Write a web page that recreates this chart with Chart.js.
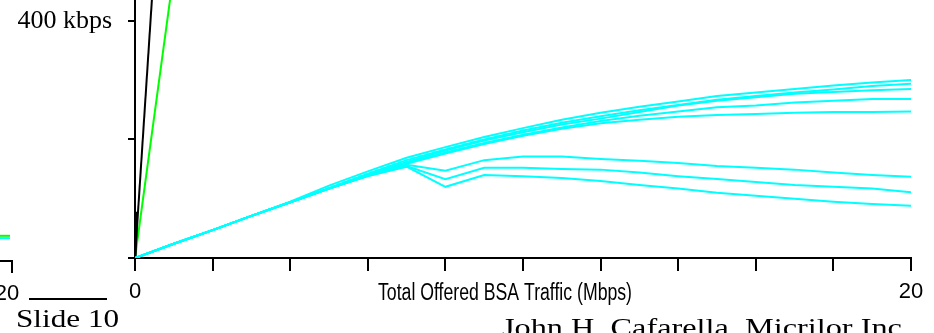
<!DOCTYPE html>
<html>
<head>
<meta charset="utf-8">
<script src="https://cdn.jsdelivr.net/npm/chart.js@4.4.1/dist/chart.umd.min.js"></script>
<style>
  html, body { margin: 0; padding: 0; background: #fff; overflow: hidden; }
  #wrap { position: relative; width: 934px; height: 333px; overflow: hidden; background: #fff; }
  #prev { position: absolute; left: -188px; top: 0; }
  #main { position: absolute; left: 0; top: 0; }
</style>
</head>
<body>
<div id="wrap">
  <canvas id="prev" width="230" height="333"></canvas>
  <canvas id="main" width="934" height="333"></canvas>
</div>
<script>
// Offered load (Mbps) at which each throughput curve was evaluated
const offeredMbps = [0, 1, 2, 3, 4, 5, 6, 7, 8, 9, 10, 11, 12, 13, 14, 15, 16, 17, 18, 19, 20];

// Per-station throughput (kbps), upper group keeps rising
const upper1 = [0, 24, 47, 71, 95, 122, 146, 169, 187, 204, 219, 233, 245, 255, 264, 273, 279, 285, 291, 296, 300];
const upper2 = [0, 24, 47, 71, 94, 118, 142, 165, 183, 200, 215, 228, 239, 249, 258, 267, 273, 279, 284, 290, 294];
const upper3 = [0, 24, 47, 71, 94, 117, 140, 162, 181, 198, 212, 225, 235, 246, 257, 265, 271, 277, 280, 283, 285];
const upper4 = [0, 24, 47, 71, 94, 117, 140, 160, 178, 194, 208, 220, 231, 240, 247, 254, 257, 262, 265, 268, 268];
const upper5 = [0, 24, 47, 71, 94, 117, 139, 159, 176, 192, 206, 218, 227, 233, 238, 241, 243, 245, 246, 246, 247];

// Lower group dips after 7 Mbps and then slowly declines
const lower1 = [0, 24, 47, 71, 94, 117, 139, 157, 147, 165, 171, 171, 167, 164, 160, 155, 152, 149, 144, 140, 137];
const lower2 = [0, 24, 47, 71, 94, 117, 138, 155, 133, 152, 152, 150, 149, 144, 138, 133, 128, 123, 120, 117, 111];
const lower3 = [0, 24, 47, 71, 94, 117, 138, 154, 120, 140, 138, 135, 130, 123, 117, 110, 105, 100, 95, 91, 88];

// Steep reference curves near the origin
const blackX = [0, 0.5];
const blackY = [0, 500];
const blackStubX = [0, 0.04];
const blackStubY = [0, 78];
const greenX = [0, 1];
const greenY = [0, 482];

// Right edge of the neighbouring panel
const prevX = [18, 19.8];
const prevCyan = [38, 38];
const prevGreen = [42, 42];

// Tick positions and labels
const xTickValues = [0, 2, 4, 6, 8, 10, 12, 14, 16, 18, 20];
const yTickValues = [0, 200, 400];
const xTickLabels = { 0: '0', 20: '20' };
const yTickLabels = { 400: '400 kbps' };
const xAxisTitle = 'Total Offered BSA Traffic (Mbps)';
const slideLabel = 'Slide 10';
const authorLabel = 'John H. Cafarella, Micrilor Inc.';

const CYAN = '#00ffff';
const GREEN = '#00ff00';
const SANS = '"Liberation Sans Narrow", "Liberation Sans", Arial, sans-serif';
const SERIF = '"Liberation Serif", "Times New Roman", serif';

function pairs(xs, ys) {
  return xs.map((x, i) => ({ x: x, y: ys[i] }));
}

function lineSet(xs, ys, color, width) {
  return {
    data: pairs(xs, ys),
    borderColor: color,
    backgroundColor: color,
    borderWidth: width,
    pointRadius: 0,
    tension: 0,
    fill: false
  };
}

function fixedTicks(values) {
  return scale => { scale.ticks = values.map(v => ({ value: v })); };
}

// draw text squeezed or stretched to a given width
function fitText(ctx, text, x, y, font, width) {
  ctx.save();
  ctx.font = font;
  const w = ctx.measureText(text).width;
  ctx.translate(x, y);
  ctx.scale(width / w, 1);
  ctx.fillText(text, 0, 0);
  ctx.restore();
}

const cyanCurves = [upper1, upper2, upper3, upper4, upper5, lower1, lower2, lower3];

const slideDecor = {
  id: 'slideDecor',
  afterDraw(chart) {
    const ctx = chart.ctx;
    ctx.save();
    ctx.fillStyle = '#000';
    ctx.textAlign = 'left';
    ctx.textBaseline = 'alphabetic';

    // axis caption, on the same line as the end labels
    fitText(ctx, xAxisTitle, 378, 300, '23px ' + SANS, 254);

    // footer rule and slide number
    ctx.fillRect(29, 298, 78, 2);
    ctx.save();
    ctx.beginPath();
    ctx.rect(0, 300, 118, 33);
    ctx.clip();
    ctx.translate(16, 327);
    ctx.scale(1.2, 1);
    ctx.font = '26px ' + SERIF;
    ctx.fillText(slideLabel, 0, 0);
    ctx.restore();

    // author line
    fitText(ctx, authorLabel, 502, 336, '26px ' + SERIF, 408);

    ctx.restore();
  }
};

const datasets = cyanCurves.map(c => lineSet(offeredMbps, c, CYAN, 2));
datasets.push(lineSet(blackX, blackY, '#000', 2));
datasets.push(lineSet(blackStubX, blackStubY, '#000', 3));
datasets.push(lineSet(greenX, greenY, GREEN, 2));

new Chart(document.getElementById('main'), {
  type: 'line',
  data: { datasets: datasets },
  options: {
    responsive: false,
    animation: false,
    devicePixelRatio: 1,
    layout: { padding: { left: 0, right: 23, top: 0, bottom: 0 } },
    plugins: { legend: { display: false }, tooltip: { enabled: false } },
    scales: {
      x: {
        type: 'linear',
        min: 0,
        max: 20,
        border: { display: true, color: '#000', width: 2 },
        grid: { drawOnChartArea: false, drawTicks: true, tickLength: 13, color: '#000', lineWidth: 2 },
        ticks: {
          autoSkip: false,
          maxRotation: 0,
          padding: 8,
          color: '#000',
          font: { family: SANS, size: 22 },
          callback: v => (xTickLabels[v] !== undefined ? xTickLabels[v] : '')
        },
        afterBuildTicks: fixedTicks(xTickValues),
        afterFit(s) { s.height = 75; s.paddingLeft = 0; s.paddingRight = 0; }
      },
      y: {
        type: 'linear',
        min: 0,
        max: 435,
        border: { display: true, color: '#000', width: 2 },
        grid: { drawOnChartArea: false, drawTicks: true, tickLength: 7, color: '#000', lineWidth: 2 },
        ticks: {
          autoSkip: false,
          padding: 16,
          color: '#000',
          font: { family: SERIF, size: 26 },
          callback: v => (yTickLabels[v] !== undefined ? yTickLabels[v] : '')
        },
        afterBuildTicks: fixedTicks(yTickValues),
        afterFit(s) { s.width = 135; s.paddingTop = 0; s.paddingBottom = 0; }
      }
    }
  },
  plugins: [slideDecor]
});

// neighbouring panel: only its right-hand end is in view
new Chart(document.getElementById('prev'), {
  type: 'line',
  data: {
    datasets: [
      lineSet(prevX, prevCyan, CYAN, 2),
      lineSet(prevX, prevGreen, GREEN, 2)
    ]
  },
  options: {
    responsive: false,
    animation: false,
    devicePixelRatio: 1,
    layout: { padding: { left: 0, right: 30, top: 0, bottom: 0 } },
    plugins: { legend: { display: false }, tooltip: { enabled: false } },
    scales: {
      x: {
        type: 'linear',
        min: 0,
        max: 20,
        border: { display: true, color: '#000', width: 2 },
        grid: { drawOnChartArea: false, drawTicks: true, tickLength: 12, color: '#000', lineWidth: 2 },
        ticks: {
          autoSkip: false,
          maxRotation: 0,
          padding: 8,
          labelOffset: -5,
          color: '#000',
          font: { family: SANS, size: 22 },
          callback: v => (v === 20 ? xTickLabels[20] : '')
        },
        afterBuildTicks: fixedTicks(xTickValues),
        afterFit(s) { s.height = 72; s.paddingLeft = 0; s.paddingRight = 0; }
      },
      y: { display: false, min: 0, max: 435 }
    }
  }
});
</script>
</body>
</html>
